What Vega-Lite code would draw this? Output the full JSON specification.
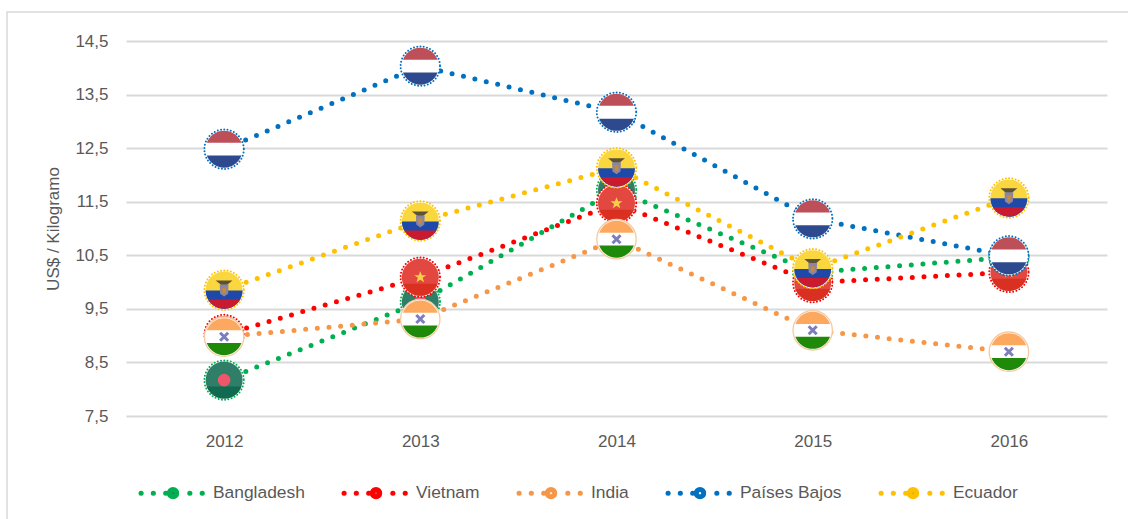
{
"$schema":"https://vega.github.io/schema/vega-lite/v6.json",
"width":1123,"height":509,
"autosize":"none",
"padding":{"left":7,"top":12,"right":0,"bottom":0},
"background":"white",
"config":{"view":{"stroke":"#d9d9d9","strokeWidth":1.5,"fill":"white"},"font":"Liberation Sans"},
"data":{"values":[
{"country":"Bangladesh","year":"2012","price":8.17},{"country":"Bangladesh","year":"2013","price":9.63},{"country":"Bangladesh","year":"2014","price":11.72},{"country":"Bangladesh","year":"2015","price":10.18},{"country":"Bangladesh","year":"2016","price":10.46},
{"country":"Vietnam","year":"2012","price":9.02},{"country":"Vietnam","year":"2013","price":10.09},{"country":"Vietnam","year":"2014","price":11.47},{"country":"Vietnam","year":"2015","price":9.99},{"country":"Vietnam","year":"2016","price":10.18},
{"country":"India","year":"2012","price":8.98},{"country":"India","year":"2013","price":9.31},{"country":"India","year":"2014","price":10.8},{"country":"India","year":"2015","price":9.1},{"country":"India","year":"2016","price":8.7},
{"country":"Países Bajos","year":"2012","price":12.48},{"country":"Países Bajos","year":"2013","price":14.03},{"country":"Países Bajos","year":"2014","price":13.17},{"country":"Países Bajos","year":"2015","price":11.18},{"country":"Países Bajos","year":"2016","price":10.49},
{"country":"Ecuador","year":"2012","price":9.85},{"country":"Ecuador","year":"2013","price":11.14},{"country":"Ecuador","year":"2014","price":12.13},{"country":"Ecuador","year":"2015","price":10.25},{"country":"Ecuador","year":"2016","price":11.57}
]},
"encoding":{
"x":{"field":"year","type":"ordinal","title":null,"scale":{"type":"point","range":[119,1100],"padding":0.5},
"axis":{"domain":false,"ticks":false,"grid":false,"labelAngle":0,"labelPadding":0,"offset":-88,"labelFontSize":17,"labelColor":"#595959","labelFont":"Liberation Sans"}},
"y":{"field":"price","type":"quantitative","title":"US$ / Kilogramo","scale":{"domain":[7.5,14.5],"range":[404,29],"nice":false,"zero":false},
"axis":{"values":[7.5,8.5,9.5,10.5,11.5,12.5,13.5,14.5],"labelExpr":"replace(format(datum.value,'.1f'),'.',',')","domain":false,"ticks":false,"labelPadding":0,"offset":-101,"labelFontSize":17,"labelColor":"#595959","labelFont":"Liberation Sans","titleFont":"Liberation Sans","titleFontSize":17,"titleFontWeight":"normal","titleColor":"#595959","titlePadding":12,"gridColor":"#d9d9d9","gridWidth":2,"encoding":{"grid":{"x":{"value":18},"x2":{"value":999}}}}}
},
"layer":[
{"transform":[{"filter":"datum.country==='Bangladesh'"}],"layer":[
{"mark":{"type":"line","strokeDash":[0,11.7],"strokeCap":"round","strokeWidth":5},
"encoding":{"color":{"field":"country","type":"nominal","scale":{"domain":["Bangladesh","Vietnam","India","Países Bajos","Ecuador"],"range":["#00b050","#ff0000","#f79646","#0070c0","#ffc000"]},
"legend":{"title":null,"orient":"none","legendX":129,"legendY":445,"direction":"horizontal","columns":5,"columnPadding":29,"padding":0,"symbolType":"M-.925,0L-.92,0M-.56,0L-.555,0M-.19,0L-.185,0M.53,0L.535,0M.9,0L.905,0M.14,0A.11,.11 0 1 1 -.08,0A.11,.11 0 1 1 .14,0Z","symbolSize":4489,"symbolStrokeWidth":5,"labelOffset":5,"labelFont":"Liberation Sans","labelFontSize":17.4,"labelColor":"#595959",
"encoding":{"symbols":{"strokeCap":{"value":"round"},"fill":{"value":{"expr":"({'Bangladesh':'#2f7d67','Vietnam':'#e0403a','India':'#f5efe6','Países Bajos':'#ffffff','Ecuador':'#e0b020'})[datum.value]"}}}}}}}},
{"mark":{"type":"point","shape":"circle","size":1552,"filled":true,"opacity":1,"fill":"#ffffff","stroke":"#00b050","strokeWidth":2,"strokeDash":[0,3.3],"strokeCap":"round"}},
{"mark":{"type":"point","shape":"circle","size":1369,"filled":true,"opacity":1,"fill":"#2f7f68"}},
{"mark":{"type":"point","shape":"M-.868,.32A.925,.925 0 0 0 .868,.32Z","size":1600,"filled":true,"opacity":1,"fill":"#0f6a50"}},
{"mark":{"type":"point","shape":"circle","size":160,"filled":true,"opacity":1,"fill":"#f0566a"}}
]},
{"transform":[{"filter":"datum.country==='Vietnam'"}],"layer":[
{"mark":{"type":"line","strokeDash":[0,11.7],"strokeCap":"round","strokeWidth":5},"encoding":{"color":{"field":"country","type":"nominal"}}},
{"mark":{"type":"point","shape":"circle","size":1552,"filled":true,"opacity":1,"fill":"#ffffff","stroke":"#ff0000","strokeWidth":2,"strokeDash":[0,3.3],"strokeCap":"round"}},
{"mark":{"type":"point","shape":"circle","size":1369,"filled":true,"opacity":1,"fill":"#e2483f"}},
{"mark":{"type":"point","shape":"M-.868,.32A.925,.925 0 0 0 .868,.32Z","size":1600,"filled":true,"opacity":1,"fill":"#d93022"}},
{"mark":{"type":"point","shape":"M0,-.3L.08,-.1L.3,-.1L.12,.03L.19,.25L0,.12L-.19,.25L-.12,.03L-.3,-.1L-.08,-.1Z","size":1600,"filled":true,"opacity":1,"fill":"#f5cf4a"}}
]},
{"transform":[{"filter":"datum.country==='India'"}],"layer":[
{"mark":{"type":"line","strokeDash":[0,11.7],"strokeCap":"round","strokeWidth":5},"encoding":{"color":{"field":"country","type":"nominal"}}},
{"mark":{"type":"point","shape":"circle","size":1552,"filled":true,"opacity":1,"fill":"#ffffff","stroke":"#f8c9a0","strokeWidth":1.3}},
{"mark":{"type":"point","shape":"M-.868,-.32A.925,.925 0 0 1 .868,-.32Z","size":1600,"filled":true,"opacity":1,"fill":"#fda85f"}},
{"mark":{"type":"point","shape":"M-.868,.32A.925,.925 0 0 0 .868,.32Z","size":1600,"filled":true,"opacity":1,"fill":"#1f8a0a"}},
{"mark":{"type":"point","shape":"M-.2,-.2L.2,.2M-.2,.2L.2,-.2","size":1600,"filled":false,"opacity":1,"stroke":"#7c7cc0","strokeWidth":3}}
]},
{"transform":[{"filter":"datum.country==='Países Bajos'"}],"layer":[
{"mark":{"type":"line","strokeDash":[0,11.7],"strokeCap":"round","strokeWidth":5},"encoding":{"color":{"field":"country","type":"nominal"}}},
{"mark":{"type":"point","shape":"circle","size":1552,"filled":true,"opacity":1,"fill":"#ffffff","stroke":"#0070c0","strokeWidth":2,"strokeDash":[0,3.3],"strokeCap":"round"}},
{"mark":{"type":"point","shape":"M-.868,-.32A.925,.925 0 0 1 .868,-.32Z","size":1600,"filled":true,"opacity":1,"fill":"#bd4f58"}},
{"mark":{"type":"point","shape":"M-.868,.32A.925,.925 0 0 0 .868,.32Z","size":1600,"filled":true,"opacity":1,"fill":"#2e4a8e"}}
]},
{"transform":[{"filter":"datum.country==='Ecuador'"}],"layer":[
{"mark":{"type":"line","strokeDash":[0,11.7],"strokeCap":"round","strokeWidth":5},"encoding":{"color":{"field":"country","type":"nominal"}}},
{"mark":{"type":"point","shape":"circle","size":1552,"filled":true,"opacity":1,"fill":"#ffffff","stroke":"#ffc000","strokeWidth":2,"strokeDash":[0,3.3],"strokeCap":"round"}},
{"mark":{"type":"point","shape":"circle","size":1369,"filled":true,"opacity":1,"fill":"#fad63f"}},
{"mark":{"type":"point","shape":"M-.925,.02A.925,.925 0 0 0 .925,.02Z","size":1600,"filled":true,"opacity":1,"fill":"#1f49a8"}},
{"mark":{"type":"point","shape":"M-.797,.47A.925,.925 0 0 0 .797,.47Z","size":1600,"filled":true,"opacity":1,"fill":"#c91a30"}},
{"mark":{"type":"point","shape":"M-.42,-.48L.42,-.48L.14,-.25L-.14,-.25Z","size":1600,"filled":true,"opacity":1,"fill":"#5c5236"}},
{"mark":{"type":"point","shape":"M-.22,-.28L.22,-.28L.2,.18L0,.32L-.2,.18Z","size":1600,"filled":true,"opacity":1,"fill":"#8a86a0"}},
{"mark":{"type":"point","shape":"M-.1,-.12L.1,-.12L.08,.14L-.08,.14Z","size":1600,"filled":true,"opacity":1,"fill":"#c9883c"}}
]}
]
}
